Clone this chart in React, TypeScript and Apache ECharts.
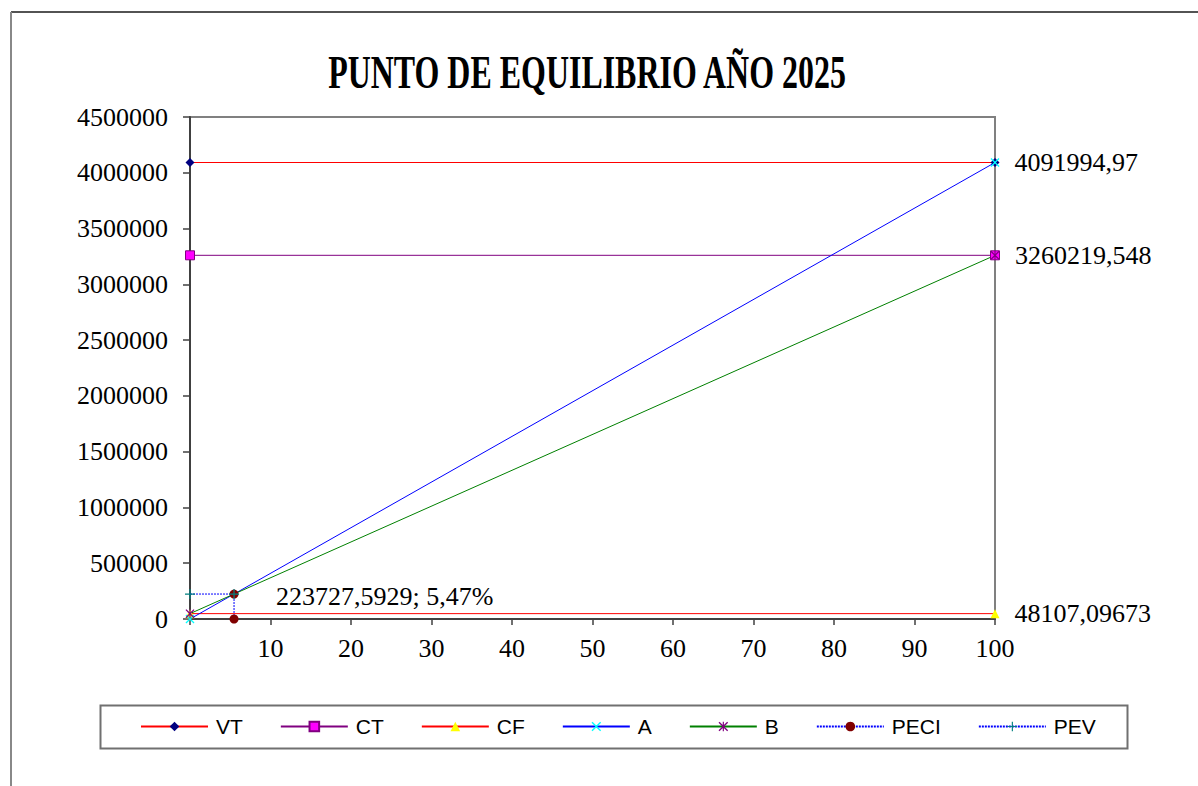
import React, { useEffect, useRef } from "react";
import * as echarts from "echarts";

const xEnds = [0, 100];
const vtValues = [4091994.97, 4091994.97];
const ctValues = [3260219.548, 3260219.548];
const cfValues = [48107.09673, 48107.09673];
const aValues = [0, 4091994.97];
const bValues = [48107.09673, 3260219.548];
const peciX = [5.47, 5.47];
const peciValues = [0, 223727.5929];
const pevX = [0, 5.47];
const pevValues = [223727.5929, 223727.5929];
const breakEvenPct = 5.47;
const xTickStep = 10;
const yTickStep = 500000;

const seriesNames = ["VT", "CT", "CF", "A", "B", "PECI", "PEV"];

const fmt = (v: number) => String(v).replace(".", ",");

const X_PATH = "path://M0,1L1,0L5,4L9,0L10,1L6,5L10,9L9,10L5,6L1,10L0,9L4,5Z";
const STAR_PATH =
  "path://M0,1L1,0L5,4L9,0L10,1L6,5L10,9L9,10L5,6L1,10L0,9L4,5Z M4.4,0H5.6V10H4.4Z";
const PLUS_PATH = "path://M4.4,0H5.6V4.4H10V5.6H5.6V10H4.4V5.6H0V4.4H4.4Z";

const serif = "'Liberation Serif', 'Times New Roman', serif";
const sans = "'Liberation Sans', Arial, sans-serif";

function pairs(xs: number[], ys: number[]) {
  return xs.map((x, i) => [x, ys[i]]);
}

export default function App() {
  const ref = useRef<HTMLDivElement>(null);
  useEffect(() => {
    if (!ref.current) return;
    const chart = echarts.init(ref.current, undefined, { renderer: "svg" });
    const labelBase = {
      fontFamily: serif,
      fontSize: 26,
      color: "#000",
    };
    const rightLabel = (text: string) => ({
      show: true,
      position: "right",
      distance: 15,
      ...labelBase,
      formatter: () => text,
    });
    const mkLine = (
      name: string,
      data: number[][],
      lineColor: string,
      symbol: string,
      symColor: string,
      symbolSize: number,
      dotted = false,
      borderColor?: string
    ) => ({
      name,
      type: "line",
      data,
      symbol,
      symbolSize,
      showSymbol: true,
      lineStyle: { color: lineColor, width: 1, type: dotted ? [2, 1] : "solid" },
      itemStyle: {
        color: symColor,
        borderColor: borderColor || symColor,
        borderWidth: borderColor ? 1 : 0,
      },
      emphasis: { disabled: true },
      label: { show: false },
    });

    const vt: any = mkLine("VT", pairs(xEnds, vtValues), "#FF0000", "diamond", "#000080", 9);
    vt.data = vt.data.map((d: number[], i: number) =>
      i === 1 ? { value: d, label: rightLabel(fmt(vtValues[1])) } : d
    );
    const ct: any = mkLine("CT", pairs(xEnds, ctValues), "#800080", "rect", "#FF00FF", 9, false, "#800080");
    ct.data = ct.data.map((d: number[], i: number) =>
      i === 1 ? { value: d, label: rightLabel(fmt(ctValues[1])) } : d
    );
    const cf: any = mkLine("CF", pairs(xEnds, cfValues), "#FF0000", "triangle", "#FFFF00", 9);
    cf.data = cf.data.map((d: number[], i: number) =>
      i === 1 ? { value: d, label: rightLabel(fmt(cfValues[1])) } : d
    );
    const a: any = mkLine("A", pairs(xEnds, aValues), "#0000FF", X_PATH, "#00FFFF", 9);
    const b: any = mkLine("B", pairs(xEnds, bValues), "#008000", STAR_PATH, "#800080", 9);
    const peci: any = mkLine("PECI", pairs(peciX, peciValues), "#0000FF", "circle", "#800000", 9, true);
    const pev: any = mkLine("PEV", pairs(pevX, pevValues), "#0000FF", PLUS_PATH, "#008080", 10, true);
    pev.data = pev.data.map((d: number[], i: number) =>
      i === 1
        ? {
            value: d,
            label: {
              show: true,
              position: "right",
              distance: 37,
              offset: [0, 2],
              ...labelBase,
              formatter: () => `${fmt(pevValues[1])}; ${fmt(breakEvenPct)}%`,
            },
          }
        : d
    );

    const option: any = {
      animation: false,
      backgroundColor: "#fff",
      graphic: [
        {
          type: "line",
          shape: { x1: 11, y1: 12, x2: 1198, y2: 12 },
          style: { stroke: "#1a1a1a", lineWidth: 1.5 },
          silent: true,
        },
        {
          type: "line",
          shape: { x1: 11, y1: 12, x2: 11, y2: 786 },
          style: { stroke: "#888", lineWidth: 2 },
          silent: true,
        },
        {
          type: "rect",
          shape: { x: 100.5, y: 705.5, width: 1027, height: 43 },
          style: { fill: "none", stroke: "#707070", lineWidth: 2 },
          silent: true,
        },
        {
          type: "text",
          x: 587,
          y: 72,
          scaleX: 0.68,
          style: {
            text: "PUNTO DE EQUILIBRIO AÑO 2025",
            font: `bold 47px ${serif}`,
            fill: "#000",
            textAlign: "center",
            textVerticalAlign: "middle",
          },
          silent: true,
        },
      ],
      legend: {
        data: seriesNames,
        left: 140,
        top: 716,
        padding: 0,
        itemWidth: 67,
        itemHeight: 12,
        itemGap: 37,
        selectedMode: false,
        textStyle: {
          fontFamily: sans,
          fontSize: 21,
          color: "#000",
          padding: [0, 0, 0, 3],
        },
      },
      grid: {
        left: 190,
        right: 203,
        top: 117,
        bottom: 167,
        show: true,
        borderColor: "#808080",
        borderWidth: 2,
        backgroundColor: "transparent",
      },
      xAxis: {
        type: "value",
        min: 0,
        max: 100,
        interval: xTickStep,
        splitLine: { show: false },
        axisLine: { show: true, onZero: false, lineStyle: { color: "#404040", width: 2 } },
        axisTick: { show: true, inside: false, length: 6, lineStyle: { color: "#404040", width: 1.5 } },
        axisLabel: {
          fontFamily: serif,
          fontSize: 26,
          color: "#000",
          margin: 16,
          formatter: (v: number) => String(v),
        },
      },
      yAxis: {
        type: "value",
        min: 0,
        max: 4500000,
        interval: yTickStep,
        splitLine: { show: false },
        axisLine: { show: true, onZero: false, lineStyle: { color: "#404040", width: 2 } },
        axisTick: { show: true, inside: false, length: 7, lineStyle: { color: "#404040", width: 1.5 } },
        axisLabel: {
          fontFamily: serif,
          fontSize: 26,
          color: "#000",
          margin: 22,
          formatter: (v: number) => String(v),
        },
      },
      series: [vt, ct, cf, a, b, peci, pev],
    };
    chart.setOption(option);
    return () => chart.dispose();
  }, []);
  return (
    <div
      ref={ref}
      style={{ position: "absolute", left: 0, top: 0, width: 1198, height: 786, background: "#fff" }}
    />
  );
}
